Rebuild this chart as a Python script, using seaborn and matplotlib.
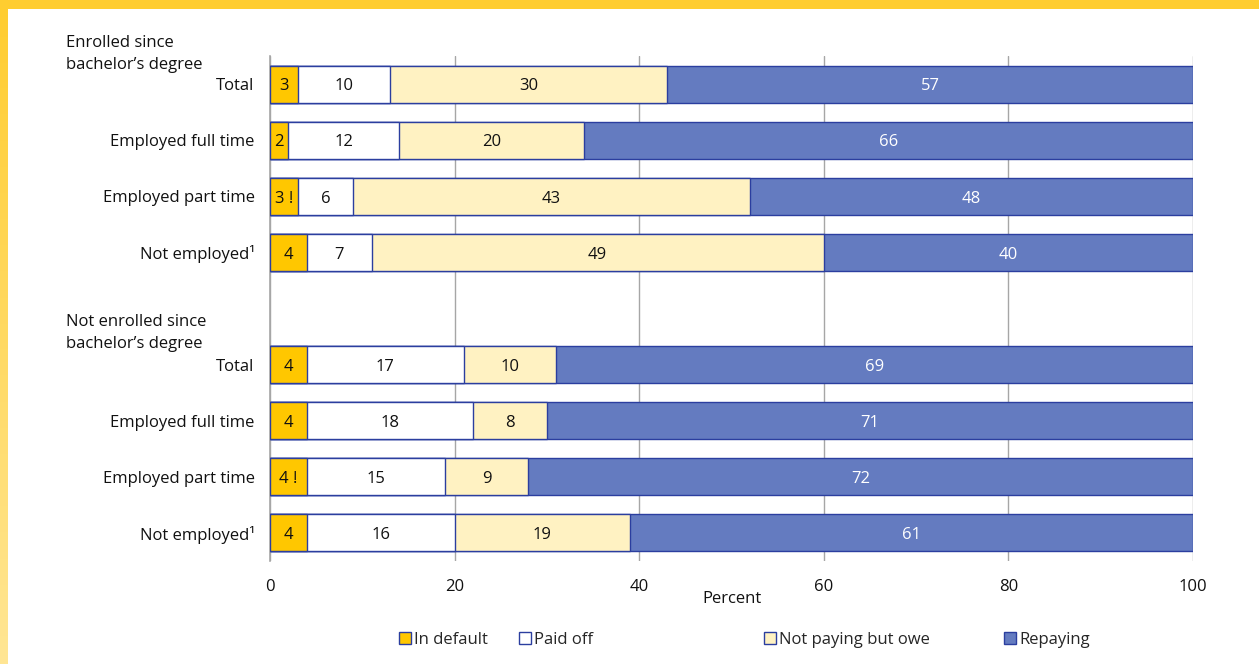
import numpy as np
import pandas as pd
import matplotlib
matplotlib.use("Agg")
import matplotlib.pyplot as plt
from matplotlib.patches import Patch
import seaborn as sns

# Row labels (top to bottom) and their slot positions; slot 4 is the gap between groups
row_labels = ["Total", "Employed full time", "Employed part time", "Not employed\u00b9",
              "Total", "Employed full time", "Employed part time", "Not employed\u00b9"]
row_pos = [0, 1, 2, 3, 5, 6, 7, 8]
group_titles = ["Enrolled since\nbachelor\u2019s degree", "Not enrolled since\nbachelor\u2019s degree"]

series_names = ["In default", "Paid off", "Not paying but owe", "Repaying"]
in_default = [3, 2, 3, 4, 4, 4, 4, 4]
paid_off = [10, 12, 6, 7, 17, 18, 15, 16]
not_paying = [30, 20, 43, 49, 10, 8, 9, 19]
repaying = [57, 66, 48, 40, 69, 71, 72, 61]
default_text = ["3", "2", "3 !", "4", "4", "4", "4 !", "4"]

x_ticks = [0, 20, 40, 60, 80, 100]

colors = ["#FFC700", "#FFFFFF", "#FFF2C2", "#647BC0"]
edge = "#2B3E9F"
text_colors = ["#111111", "#111111", "#111111", "#FFFFFF"]
FS = 12

sns.set_theme(style="white")
plt.rcParams["font.family"] = ["Open Sans", "DejaVu Sans"]

W, H = 1259, 664
fig = plt.figure(figsize=(W / 100, H / 100), dpi=100)
fig.patch.set_facecolor("white")

ax = fig.add_axes([270 / W, 1 - 561 / H, (1193 - 270) / W, (561 - 56) / H])

series = [in_default, paid_off, not_paying, repaying]
cum = np.cumsum(np.array(series, dtype=float), axis=0)
df = pd.DataFrame({"pos": row_pos})
for i, name in enumerate(series_names):
    df[name] = np.minimum(cum[i], 100)

# Stacked bars: draw cumulative totals from the outermost layer inward
for i in reversed(range(len(series_names))):
    sns.barplot(data=df, x=series_names[i], y="pos", orient="y", native_scale=True,
                width=0.66, color=colors[i], edgecolor=edge, linewidth=1.0,
                saturation=1, ax=ax, zorder=3)

# Segment value labels
for r, p in enumerate(row_pos):
    left = 0.0
    for i in range(len(series_names)):
        v = series[i][r]
        txt = default_text[r] if i == 0 else str(v)
        center = min(left + v / 2, (left + 100) / 2)
        ax.text(center, p + 0.04, txt, ha="center", va="center", fontsize=FS,
                color=text_colors[i], zorder=5)
        left += v

ax.set_xlim(0, 100)
ax.set_ylim(8.5, -0.5)
ax.set_xticks(x_ticks)
ax.set_xticklabels([str(t) for t in x_ticks], fontsize=FS, color="#111111")
ax.set_yticks(row_pos)
ax.set_yticklabels(row_labels, fontsize=FS, color="#111111")
ax.tick_params(axis="x", length=0, pad=13)
ax.tick_params(axis="y", length=0, pad=11)
ax.set_xlabel("Percent", fontsize=FS, color="#111111", labelpad=-3)
ax.set_ylabel("")

ax.grid(axis="x", color="#A6A6A6", linewidth=1.0, zorder=0)
ax.grid(axis="y", visible=False)
ax.set_axisbelow(True)
for s in ["top", "right", "bottom"]:
    ax.spines[s].set_visible(False)
ax.spines["left"].set_color("#A6A6A6")
ax.spines["left"].set_linewidth(1.2)

# Group headers
fig.text(66 / W, 1 - 54 / H, group_titles[0], ha="left", va="center",
         fontsize=FS, color="#111111", linespacing=1.45)
fig.text(66 / W, 1 - 333 / H, group_titles[1], ha="left", va="center",
         fontsize=FS, color="#111111", linespacing=1.45)

# Legend entries placed individually along the bottom
legend_x = [399, 519, 764, 1004]
for name, c, lx in zip(series_names, colors, legend_x):
    fig.legend(handles=[Patch(facecolor=c, edgecolor=edge, linewidth=1.0)],
               labels=[name], loc="center left", bbox_to_anchor=(lx / W, 1 - 640 / H),
               frameon=False, fontsize=FS, handlelength=0.7, handleheight=0.7,
               handletextpad=0.2, borderpad=0, borderaxespad=0)

# Yellow frame: solid top band and a fading left band
top = fig.add_axes([0, 1 - 9 / H, 1, 9 / H])
top.set_facecolor("#FFCD30")
top.set_xticks([]); top.set_yticks([])
for s in top.spines.values():
    s.set_visible(False)

left_band = fig.add_axes([0, 0, 8 / W, 1 - 9 / H])
grad = np.linspace(0, 1, 256).reshape(-1, 1)
c_top = np.array([0xFF, 0xCD, 0x30]) / 255
c_bot = np.array([0xFF, 0xE6, 0x94]) / 255
img = c_top[None, None, :] * (1 - grad[:, :, None]) + c_bot[None, None, :] * grad[:, :, None]
left_band.imshow(img, aspect="auto", extent=[0, 1, 0, 1])
left_band.set_xticks([]); left_band.set_yticks([])
for s in left_band.spines.values():
    s.set_visible(False)

fig.savefig("out.png", dpi=100, facecolor="white")
